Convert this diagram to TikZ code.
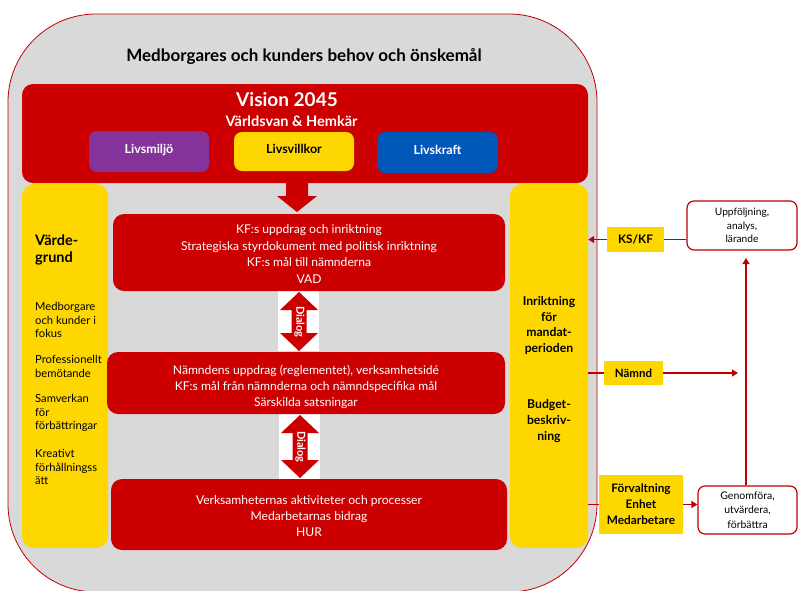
\documentclass[tikz,border=0pt]{standalone}
\usepackage{fontspec}
\setmainfont{Lato}
\usetikzlibrary{arrows.meta,calc}
\definecolor{myred}{HTML}{CC0000}
\definecolor{lnred}{HTML}{C00000}
\definecolor{myyellow}{HTML}{FFD700}
\definecolor{mypurple}{HTML}{833399}
\definecolor{myblue}{HTML}{0057B8}
\definecolor{bggray}{HTML}{D9D9D9}
\begin{document}
\begin{tikzpicture}[x=1pt,y=-1pt,
  redbox/.style={fill=myred, rounded corners=11pt, inner sep=0pt, text=white, align=center},
  ybox/.style={fill=myyellow, inner sep=0pt, align=center},
  ycol/.style={fill=myyellow, rounded corners=12pt, inner sep=0pt},
  wbox/.style={fill=white, draw=lnred, line width=1.2pt, rounded corners=7pt, inner sep=0pt, align=center},
  lbox/.style={rounded corners=8pt, inner sep=0pt, text height=10pt, text depth=7pt, font=\bfseries\fontsize{12.5}{14}\selectfont},
  conn/.style={draw=lnred, line width=1.3pt},
  tip/.style={-{Triangle[length=6pt,width=7pt]}},
  boxtext/.style={font=\fontsize{12.1}{16.4}\selectfont},
  coltext/.style={anchor=west, align=left, inner sep=0pt, font=\fontsize{11.2}{13.2}\selectfont},
  rcoltext/.style={align=center, inner sep=0pt, font=\bfseries\fontsize{12.2}{15.5}\selectfont},
  dlg/.style={rotate=-90, text=white, font=\bfseries\fontsize{11}{12}\selectfont, inner sep=0pt}
]
\useasboundingbox (0,0) rectangle (802,590);
% outer frame
\draw[draw=lnred, line width=0.8pt, fill=bggray, rounded corners=88pt] (8,14) rectangle (597,592);
\node[font=\bfseries\fontsize{17}{20}\selectfont] (title) at (304,57) {Medborgares och kunders behov och önskemål};

% vision
\node[redbox, minimum width=566pt, minimum height=99pt] (vision) at (305,133.5) {};
\node[text=white, font=\bfseries\fontsize{19}{21}\selectfont, inner sep=0pt] (vtitle) at (287,100) {Vision 2045};
\node[text=white, font=\bfseries\fontsize{14.5}{16}\selectfont, inner sep=0pt] (vsub) at (291.5,121) {Världsvan \& Hemkär};
\node[lbox, fill=mypurple, text=white, minimum width=120pt, minimum height=41pt] (miljo) at (149,151.5) {Livsmiljö};
\node[lbox, fill=myyellow, text=black, minimum width=120pt, minimum height=39pt] (villkor) at (294,151.5) {Livsvillkor};
\node[lbox, fill=myblue, text=white, minimum width=121pt, minimum height=41pt] (kraft) at (437.5,152.5) {Livskraft};

% down arrow
\fill[myred] (286,183) -- (308,183) -- (308,196) -- (317,196) -- (297,212) -- (277,196) -- (286,196) -- cycle;

% side columns
\node[ycol, minimum width=86pt, minimum height=364pt] (lcol) at (65,366) {};
\node[ycol, minimum width=78pt, minimum height=364pt] (rcol) at (549,366) {};

\node[coltext, font=\bfseries\fontsize{14.5}{17}\selectfont] (vg) at (35,250) {Värde-\\grund};
\node[coltext] (v1) at (35,320) {Medborgare\\och kunder i\\fokus};
\node[coltext] (v2) at (35,366.5) {Professionellt\\bemötande};
\node[coltext] (v3) at (35,413) {Samverkan\\för\\förbättringar};
\node[coltext] (v4) at (35,467) {Kreativt\\förhållningss\\ätt};

\node[rcoltext] (r1) at (549,325.5) {Inriktning\\för\\mandat-\\perioden};
\node[rcoltext, font=\bfseries\fontsize{12.2}{16}\selectfont] (r2) at (549,421.5) {Budget-\\beskriv-\\ning};

% dialog backgrounds
\fill[white] (278,291) rectangle (319,351);
\fill[white] (279,414) rectangle (320,479);

% central boxes
\node[redbox, minimum width=392pt, minimum height=77pt] (k1) at (309,252.5) {};
\node[boxtext, text=white, align=center, inner sep=0pt] (k1t) at (309,254) {KF:s uppdrag och inriktning\\Strategiska styrdokument med politisk inriktning\\KF:s mål till nämnderna\\VAD};
\node[redbox, minimum width=398pt, minimum height=62pt] (k2) at (306,383) {};
\node[boxtext, text=white, align=center, inner sep=0pt] (k2t) at (306,387) {Nämndens uppdrag (reglementet), verksamhetsidé\\KF:s mål från nämnderna och nämndspecifika mål\\Särskilda satsningar};
\node[redbox, minimum width=396pt, minimum height=71pt] (k3) at (309,514.5) {};
\node[boxtext, text=white, align=center, inner sep=0pt] (k3t) at (309,516) {Verksamheternas aktiviteter och processer\\Medarbetarnas bidrag\\HUR};

% dialog arrows
\fill[myred] (299,292) -- (318,310) -- (306.5,310) -- (306.5,333) -- (318,333) -- (299,351) -- (280,333) -- (291.5,333) -- (291.5,310) -- (280,310) -- cycle;
\node[dlg] (d1) at (299.5,322) {Dialog};
\fill[myred] (300,415) -- (319,433) -- (307.5,433) -- (307.5,460) -- (319,460) -- (300,478) -- (281,460) -- (292.5,460) -- (292.5,433) -- (281,433) -- cycle;
\node[dlg] (d2) at (300.5,447) {Dialog};

% right side
\node[ybox, minimum width=57pt, minimum height=25pt, font=\bfseries\fontsize{11.8}{14}\selectfont] (ks) at (635.5,239.5) {KS/KF};
\node[wbox, minimum width=110pt, minimum height=49pt, font=\fontsize{10.2}{13.5}\selectfont] (upp) at (742,225.5) {Uppföljning,\\analys,\\lärande};
\node[ybox, minimum width=59pt, minimum height=24pt, font=\bfseries\fontsize{11.5}{14}\selectfont] (nam) at (633.5,373) {Nämnd};
\node[ybox, minimum width=84pt, minimum height=59pt, font=\bfseries\fontsize{11.8}{16}\selectfont] (forv) at (641,504.5) {Förvaltning\\Enhet\\Medarbetare};
\node[wbox, minimum width=99pt, minimum height=48pt, font=\fontsize{10.5}{14.5}\selectfont] (gen) at (747.5,510) {Genomföra,\\utvärdera,\\förbättra};

\coordinate (namend) at (738,373);
\coordinate (uptip) at (746,258);

\draw[conn, tip] (ks.west) -- (ks.west -| rcol.east);
\draw[conn] (upp.west |- ks.east) -- (ks.east);
\draw[conn] (rcol.east |- nam.west) -- (nam.west);
\draw[conn, tip] (nam.east) -- (namend);
\draw[conn] (rcol.east |- forv.west) -- (forv.west);
\draw[conn, tip] (forv.east) -- (forv.east -| gen.west);
\draw[conn, tip] (gen.north -| uptip) -- (uptip);
\end{tikzpicture}
\end{document}
